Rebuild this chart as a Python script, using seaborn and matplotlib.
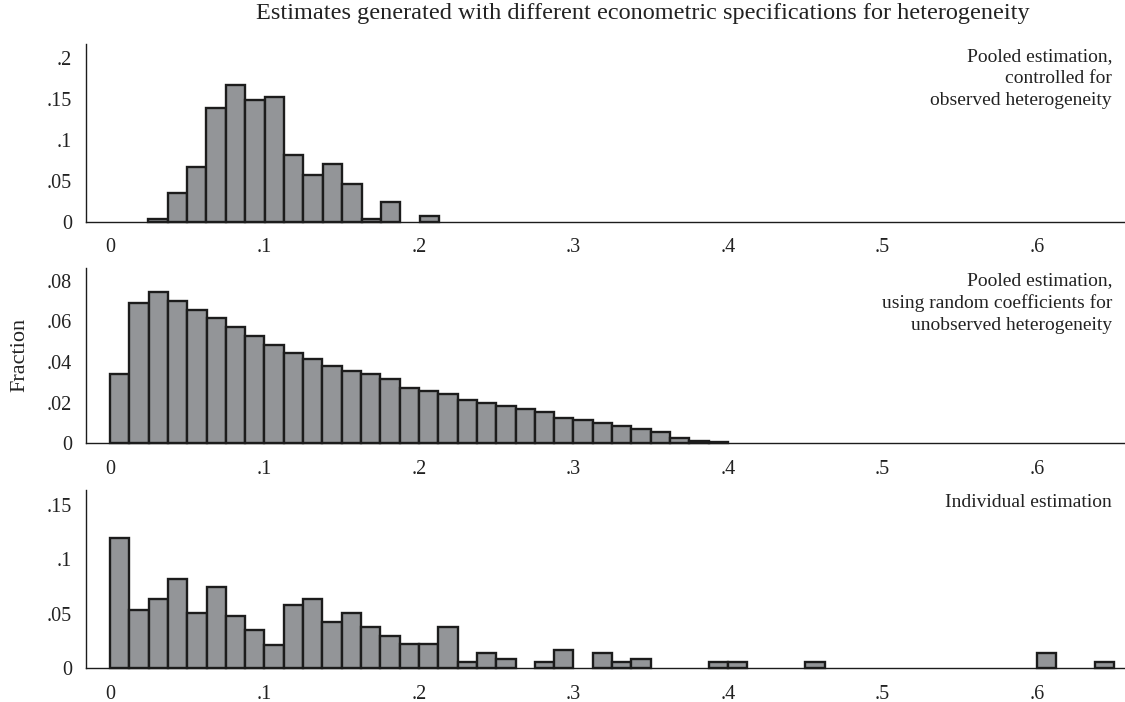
import matplotlib
matplotlib.use("Agg")
import matplotlib.pyplot as plt
import seaborn as sns
import numpy as np
import pandas as pd

# ---- data (fraction per bin) ----
# pooled estimation, controlled for observed heterogeneity
obs_start = 0.0248
obs_width = 0.01255
obs_frac = [0.0035, 0.0351, 0.0673, 0.139, 0.167, 0.149, 0.153, 0.082,
            0.057, 0.071, 0.046, 0.0035, 0.0245, 0.0, 0.007]

# pooled estimation, random coefficients
rc_start = 0.0
rc_width = 0.0125
rc_frac = [0.0341, 0.0689, 0.0744, 0.0700, 0.0657, 0.0615, 0.0570, 0.0528,
           0.0484, 0.0443, 0.0413, 0.0382, 0.0354, 0.0339, 0.0315, 0.0270,
           0.0257, 0.0241, 0.0213, 0.0200, 0.0185, 0.0170, 0.0154, 0.0126,
           0.0113, 0.0098, 0.0085, 0.0069, 0.0056, 0.0028, 0.0013, 0.0004]

# individual estimation
ind_start = 0.0
ind_width = 0.0125
ind_frac = [0.1197, 0.0536, 0.0639, 0.0824, 0.0506, 0.0748, 0.0482, 0.0348,
            0.0215, 0.0585, 0.0639, 0.0427, 0.0506, 0.0379, 0.0297, 0.0220,
            0.0220, 0.0383, 0.0058, 0.0140, 0.0086, 0.0, 0.0058, 0.0165,
            0.0, 0.0140, 0.0058, 0.0086, 0.0, 0.0, 0.0, 0.0058,
            0.0058, 0.0, 0.0, 0.0, 0.0058, 0.0, 0.0, 0.0,
            0.0, 0.0, 0.0, 0.0, 0.0, 0.0, 0.0, 0.0,
            0.0140, 0.0, 0.0, 0.0058]

panel_labels = ["Pooled estimation,\ncontrolled for\nobserved heterogeneity",
                "Pooled estimation,\nusing random coefficients for\nunobserved heterogeneity",
                "Individual estimation"]
x_ticks = [0, 0.1, 0.2, 0.3, 0.4, 0.5, 0.6]
y_ticks = [[0, 0.05, 0.1, 0.15, 0.2],
           [0, 0.02, 0.04, 0.06, 0.08],
           [0, 0.05, 0.1, 0.15]]
y_tops = [0.2175, 0.0861, 0.1637]


def stata_fmt(v):
    s = f"{v:g}"
    if s.startswith("0."):
        s = s[1:]
    return s


sns.set_style("white")
plt.rcParams['font.family'] = ['Liberation Serif', 'DejaVu Serif']
plt.rcParams['font.size'] = 14

fig = plt.figure(figsize=(11.25, 7.02), dpi=100)
W, H = 1125, 702
left = 85.7 / W
width = 1 - left
# (bottom px, top px) of each axes
boxes = [(221.7, 44), (443.3, 268.3), (668.3, 490)]

series = [(obs_start, obs_width, obs_frac),
          (rc_start, rc_width, rc_frac),
          (ind_start, ind_width, ind_frac)]

fill = '#939598'
edge = '#1c1c1c'

for i, ((start, w, frac), (b, t)) in enumerate(zip(series, boxes)):
    ax = fig.add_axes([left, 1 - b / H, width, (b - t) / H])
    frac = np.array(frac)
    edges = start + w * np.arange(len(frac) + 1)
    centers = (edges[:-1] + edges[1:]) / 2
    keep = frac > 0
    df = pd.DataFrame({'value': centers[keep], 'frac': frac[keep]})
    sns.histplot(data=df, x='value', weights='frac', bins=list(edges), ax=ax,
                 stat='count', color=fill, alpha=1, edgecolor=edge,
                 linewidth=1.7)
    for p in ax.patches:
        if p.get_height() <= 0:
            p.set_visible(False)
        p.set_clip_on(False)
    ax.set_xlim(-0.0157, 0.657)
    ax.set_ylim(0, y_tops[i])
    ax.set_xticks(x_ticks)
    ax.set_xticklabels([stata_fmt(v) for v in x_ticks])
    ax.set_yticks(y_ticks[i])
    ax.set_yticklabels([stata_fmt(v) for v in y_ticks[i]])
    ax.set_xlabel('')
    ax.set_ylabel('')
    for s in ['top', 'right']:
        ax.spines[s].set_visible(False)
    for s in ['left', 'bottom']:
        ax.spines[s].set_color('#1c1c1c')
        ax.spines[s].set_linewidth(1.0)
        ax.spines[s].set_zorder(5)
    ax.tick_params(axis='both', direction='out', length=7, width=1,
                   color='#1c1c1c', labelcolor='#222222', labelsize=14.5)
    ax.tick_params(axis='x', pad=5)
    ax.tick_params(axis='y', pad=3)
    ax.annotate(panel_labels[i], xy=(0.9875, 1), xycoords='axes fraction',
                xytext=(0, -3), textcoords='offset points',
                ha='right', va='top', fontsize=14, color='#222222',
                linespacing=1.36)
    ax.set_facecolor('white')

fig.text(643 / W, 1 - 14 / H,
         'Estimates generated with different econometric specifications for heterogeneity',
         ha='center', va='center', fontsize=17.5, color='#222222')
fig.text(20 / W, 1 - 355 / H, 'Fraction', rotation=90, ha='center',
         va='center', fontsize=16, color='#222222')

fig.savefig('out.png', dpi=100, facecolor='white')
